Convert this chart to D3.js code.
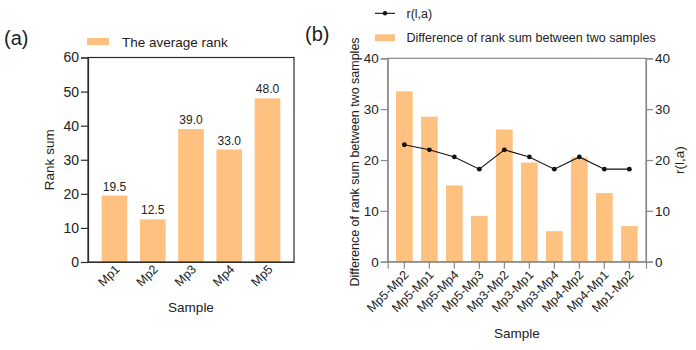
<!DOCTYPE html>
<html><head><meta charset="utf-8">
<script src="https://cdn.jsdelivr.net/npm/d3@7"></script>
<style>body{margin:0;background:#fff}svg{display:block;font-family:"Liberation Sans",Arial,sans-serif}</style>
</head><body>
<svg id="c" width="696" height="350"></svg>
<script>
const samplesA = ["Mp1","Mp2","Mp3","Mp4","Mp5"];
const avgRank = [19.5, 12.5, 39.0, 33.0, 48.0];
const ticksA = [0,10,20,30,40,50,60];

const pairsB = ["Mp5-Mp2","Mp5-Mp1","Mp5-Mp4","Mp5-Mp3","Mp3-Mp2","Mp3-Mp1","Mp3-Mp4","Mp4-Mp2","Mp4-Mp1","Mp1-Mp2"];
const diffRank = [33.5, 28.5, 15.0, 9.0, 26.0, 19.5, 6.0, 20.5, 13.5, 7.0];
const rla = [23.0, 22.0, 20.6, 18.2, 22.0, 20.6, 18.2, 20.6, 18.2, 18.2];
const ticksB = [0,10,20,30,40];

const BAR = "#fec17f";
const svg = d3.select("#c");

// ---------- Panel (a) ----------
{
  const L = 88, R = 294, T = 57.5, B = 262;
  const ax = "#2b2b2b";
  const x = d3.scaleBand().domain(samplesA).range([L, R]).paddingInner(0.33).paddingOuter(0.357);
  const y = d3.scaleLinear().domain([0, 60]).range([B, T]);
  const g = svg.append("g");
  g.selectAll("rect.bar").data(samplesA).join("rect")
    .attr("x", d => x(d)).attr("width", x.bandwidth())
    .attr("y", (d,i) => y(avgRank[i])).attr("height", (d,i) => B - y(avgRank[i]))
    .attr("fill", BAR);
  g.selectAll("text.val").data(samplesA).join("text")
    .attr("x", d => x(d) + x.bandwidth()/2).attr("y", (d,i) => y(avgRank[i]) - 5)
    .attr("text-anchor","middle").attr("font-size", 12).attr("fill","#222")
    .text((d,i) => avgRank[i].toFixed(1));
  // frame
  g.append("rect").attr("x", L).attr("y", T).attr("width", R-L).attr("height", B-T)
    .attr("fill","none").attr("stroke", ax).attr("stroke-width", 1.2);
  const ya = g.append("g").attr("transform", `translate(${L},0)`)
    .call(d3.axisLeft(y).tickValues(ticksA).tickSize(7).tickPadding(2));
  ya.select(".domain").attr("stroke", ax).attr("stroke-width", 1.2);
  ya.selectAll(".tick line").attr("stroke", ax).attr("stroke-width", 1.2);
  ya.selectAll("text").attr("font-size", 14).attr("fill","#222").attr("font-family","Liberation Sans, Arial");
  const xa = g.append("g").attr("transform", `translate(0,${B})`)
    .call(d3.axisBottom(x).tickSize(0).tickPadding(0));
  xa.select(".domain").attr("stroke", ax).attr("stroke-width", 1.2);
  xa.selectAll("text").attr("font-size", 12.5).attr("fill","#222").attr("font-family","Liberation Sans, Arial")
    .attr("text-anchor","end").attr("dy", null).attr("y", 0)
    .attr("transform","translate(6,8) rotate(-45)");
  g.append("text").attr("transform", `translate(54,${(T+B)/2}) rotate(-90)`)
    .attr("text-anchor","middle").attr("font-size", 13.5).attr("fill","#222").text("Rank sum");
  g.append("text").attr("x", (L+R)/2).attr("y", 312).attr("text-anchor","middle")
    .attr("font-size", 13.5).attr("fill","#222").text("Sample");
  // legend
  g.append("rect").attr("x", 87).attr("y", 38).attr("width", 22).attr("height", 7).attr("fill", BAR);
  g.append("text").attr("x", 122).attr("y", 47).attr("font-size", 13.5).attr("fill","#222").text("The average rank");
  g.append("text").attr("x", 4).attr("y", 45).attr("font-size", 20).attr("fill","#222").text("(a)");
}

// ---------- Panel (b) ----------
{
  const L = 387.7, R = 646, T = 58.3, B = 261.7;
  const ax = "#8a8a8a";
  const x = d3.scaleBand().domain(pairsB).range([L, R]).paddingInner(0.333).paddingOuter(0.333);
  const y = d3.scaleLinear().domain([0, 40]).range([B, T]);
  const y2 = d3.scaleLinear().domain([0, 40]).range([B, T]);
  const g = svg.append("g");
  g.selectAll("rect.bar").data(pairsB).join("rect")
    .attr("x", d => x(d)).attr("width", x.bandwidth())
    .attr("y", (d,i) => y(diffRank[i])).attr("height", (d,i) => B - y(diffRank[i]))
    .attr("fill", BAR);
  g.append("rect").attr("x", L).attr("y", T).attr("width", R-L).attr("height", B-T)
    .attr("fill","none").attr("stroke", ax).attr("stroke-width", 1.2);
  const ya = g.append("g").attr("transform", `translate(${L},0)`)
    .call(d3.axisLeft(y).tickValues(ticksB).tickSize(7).tickPadding(2));
  const yb = g.append("g").attr("transform", `translate(${R},0)`)
    .call(d3.axisRight(y2).tickValues(ticksB).tickSize(7).tickPadding(2));
  const xa = g.append("g").attr("transform", `translate(0,${B})`)
    .call(d3.axisBottom(x).tickSize(7).tickPadding(0));
  [ya, yb, xa].forEach(a => {
    a.select(".domain").attr("stroke", ax).attr("stroke-width", 1.2);
    a.selectAll(".tick line").attr("stroke", ax).attr("stroke-width", 1.2);
  });
  [ya, yb].forEach(a => a.selectAll("text").attr("font-size", 13.5).attr("fill","#222").attr("font-family","Liberation Sans, Arial"));
  xa.selectAll("text").attr("font-size", 12.5).attr("fill","#222").attr("font-family","Liberation Sans, Arial")
    .attr("text-anchor","end").attr("dy", null).attr("y", 0)
    .attr("transform","translate(5,14) rotate(-45)");
  // line
  const cx = d => x(d) + x.bandwidth()/2;
  g.append("path").datum(pairsB)
    .attr("d", d3.line().x(d => cx(d)).y((d,i) => y2(rla[i])))
    .attr("fill","none").attr("stroke","#111").attr("stroke-width", 1.1);
  g.selectAll("circle.pt").data(pairsB).join("circle")
    .attr("cx", d => cx(d)).attr("cy", (d,i) => y2(rla[i])).attr("r", 2.4).attr("fill","#111");
  g.append("text").attr("transform", `translate(359,${(T+B)/2 + 2}) rotate(-90)`)
    .attr("text-anchor","middle").attr("font-size", 12.5).attr("fill","#222")
    .text("Difference of rank sum between two samples");
  g.append("text").attr("transform", `translate(684,${(T+B)/2}) rotate(-90)`)
    .attr("text-anchor","middle").attr("font-size", 13.5).attr("fill","#222").text("r(l,a)");
  g.append("text").attr("x", (L+R)/2).attr("y", 338).attr("text-anchor","middle")
    .attr("font-size", 13.5).attr("fill","#222").text("Sample");
  // legend
  g.append("line").attr("x1", 375).attr("x2", 395).attr("y1", 13.3).attr("y2", 13.3).attr("stroke","#111").attr("stroke-width",1.1);
  g.append("circle").attr("cx", 385).attr("cy", 13.3).attr("r", 2.2).attr("fill","#111");
  g.append("text").attr("x", 406.5).attr("y", 18).attr("font-size", 12.5).attr("fill","#222").text("r(l,a)");
  g.append("rect").attr("x", 375).attr("y", 34.3).attr("width", 20).attr("height", 7).attr("fill", BAR);
  g.append("text").attr("x", 406.5).attr("y", 42).attr("font-size", 12.5).attr("fill","#222").text("Difference of rank sum between two samples");
  g.append("text").attr("x", 305).attr("y", 41).attr("font-size", 20).attr("fill","#222").text("(b)");
}
</script>
</body></html>
